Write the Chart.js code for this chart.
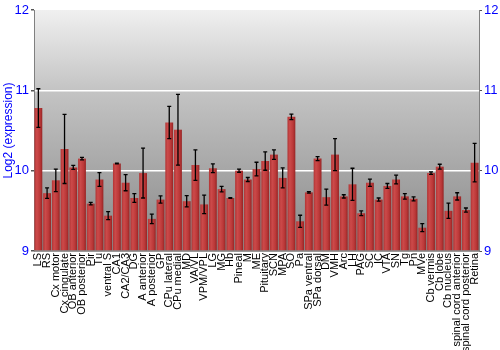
<!DOCTYPE html>
<html lang="en">
  <head>
    <meta charset="UTF-8" />
    <title>Log2 expression by region</title>
    <script src="https://cdn.jsdelivr.net/npm/chart.js"></script>
    <style>
      body { margin: 0; background: #fff; }
    </style>
  </head>
  <body>
    <canvas id="exprChart" width="500" height="350"></canvas>

    <script>
      // === data ===
      const regions = [
        "LS", "RS", "Cx motor", "Cx cingulate", "OB anterior", "OB posterior", "Pir", "Tu",
        "ventral S", "CA1", "CA2/CA3", "DG", "A anterior", "A posterior", "GP", "CPu lateral",
        "CPu medial", "MD", "VA/VL", "VPM/VPL", "LG", "MG", "Hb", "Pineal", "M", "ME",
        "Pituitary", "SCN", "MPA", "SO", "Pa", "SPa ventral", "SPa dorsal", "DM", "VMH", "Arc",
        "LH", "PAG", "SC", "IC", "VTA", "SN", "Tg", "Pn", "MVe", "Cb vermis", "Cb lobe",
        "Cb nucleus", "spinal cord anterior", "spinal cord posterior", "Retina"
      ];
      const meanExpr = [
        10.78, 9.72, 9.88, 10.27, 10.04, 10.15, 9.59, 9.89,
        9.44, 10.09, 9.85, 9.66, 9.97, 9.40, 9.64, 10.60,
        10.51, 9.62, 10.07, 9.58, 10.03, 9.77, 9.66, 10.00, 9.89, 10.02,
        10.12, 10.20, 9.91, 10.67, 9.37, 9.73, 10.15, 9.67, 10.20, 9.68,
        9.83, 9.47, 9.85, 9.64, 9.81, 9.89, 9.68, 9.65, 9.29, 9.97, 10.05,
        9.50, 9.68, 9.51, 10.10
      ];
      const errExpr = [
        0.24, 0.065, 0.14, 0.43, 0.025, 0.015, 0.015, 0.085,
        0.05, 0.005, 0.1, 0.055, 0.31, 0.06, 0.045, 0.2,
        0.44, 0.07, 0.19, 0.115, 0.055, 0.035, 0.005, 0.02, 0.025, 0.085,
        0.115, 0.06, 0.125, 0.035, 0.075, 0.01, 0.025, 0.1, 0.2, 0.02,
        0.2, 0.03, 0.045, 0.02, 0.03, 0.055, 0.035, 0.025, 0.05, 0.015, 0.03,
        0.095, 0.045, 0.025, 0.24
      ];
      const yTicks = [9, 10, 11, 12];

      Chart.defaults.font.family = "'Liberation Sans', Arial, sans-serif";

      // gray gradient behind the plot
      const plotBackground = {
        id: "plotBackground",
        beforeDraw(chart) {
          const { ctx, chartArea: a } = chart;
          const g = ctx.createLinearGradient(0, a.top, 0, a.bottom);
          g.addColorStop(0, "#f0f0f0");
          g.addColorStop(0.33, "#c4c4c4");
          g.addColorStop(0.67, "#a6a6a6");
          g.addColorStop(1, "#888888");
          ctx.save();
          ctx.fillStyle = g;
          ctx.fillRect(a.left, a.top, a.right - a.left, a.bottom - a.top);
          ctx.restore();
        },
      };

      // error bars from the y scale
      const errorBars = {
        id: "errorBars",
        afterDatasetsDraw(chart) {
          const { ctx, scales } = chart;
          ctx.save();
          ctx.strokeStyle = "#000";
          ctx.lineWidth = 1.3;
          meanExpr.forEach((m, i) => {
            const x = scales.x.getPixelForValue(i);
            const y1 = scales.y.getPixelForValue(m + errExpr[i]);
            const y2 = scales.y.getPixelForValue(m - errExpr[i]);
            ctx.beginPath();
            ctx.moveTo(x, y1);
            ctx.lineTo(x, y2);
            ctx.moveTo(x - 2, y1);
            ctx.lineTo(x + 2, y1);
            ctx.moveTo(x - 2, y2);
            ctx.lineTo(x + 2, y2);
            ctx.stroke();
          });
          ctx.restore();
        },
      };

      // shaded red bars
      function barFill(c) {
        const chart = c.chart;
        const xs = chart.scales && chart.scales.x;
        if (!xs || c.dataIndex === undefined) return "#bb3636";
        const cx = xs.getPixelForValue(c.dataIndex);
        if (!Number.isFinite(cx)) return "#bb3636";
        const w = 4;
        const g = chart.ctx.createLinearGradient(cx - w, 0, cx + w, 0);
        g.addColorStop(0, "#b03434");
        g.addColorStop(0.3, "#cc4a4a");
        g.addColorStop(0.7, "#bb3838");
        g.addColorStop(1, "#952424");
        return g;
      }

      const chart = new Chart(document.getElementById("exprChart"), {
        type: "bar",
        data: {
          labels: regions,
          datasets: [
            {
              label: "Log2 (expression)",
              data: meanExpr,
              backgroundColor: barFill,
              borderWidth: 0,
              barPercentage: 0.9,
              categoryPercentage: 1.0,
              base: 9,
            },
          ],
        },
        options: {
          responsive: false,
          animation: false,
          layout: { padding: { top: 10, left: 0, right: 0, bottom: 0 } },
          plugins: {
            legend: { display: false },
            tooltip: { enabled: false },
          },
          scales: {
            x: {
              grid: { display: true, drawOnChartArea: false, drawTicks: false },
              border: { display: true, color: "#999" },
              ticks: {
                autoSkip: false,
                maxRotation: 90,
                minRotation: 90,
                padding: 2,
                color: "#000",
                font: { size: 11 },
              },
              afterFit(scale) {
                scale.height = 99;
              },
            },
            y: {
              position: "left",
              min: 9,
              max: 12,
              afterBuildTicks(scale) {
                scale.ticks = yTicks.map((v) => ({ value: v }));
              },
              grid: {
                color: (c) => (c.tick && (c.tick.value === 10 || c.tick.value === 11) ? "#ffffff" : "rgba(0,0,0,0)"),
                lineWidth: 1.5,
                tickColor: "#555",
                tickLength: 3,
              },
              border: { display: true, color: "#808080", width: 1 },
              ticks: { color: "#0000ff", padding: 2, font: { size: 13 } },
              title: {
                display: true,
                text: "Log2 (expression)",
                color: "#0000ff",
                font: { size: 12 },
                padding: { top: 1, bottom: 0 },
              },
              afterFit(scale) {
                scale.width = 34;
              },
            },
            y2: {
              position: "right",
              min: 9,
              max: 12,
              afterBuildTicks(scale) {
                scale.ticks = yTicks.map((v) => ({ value: v }));
              },
              grid: { drawOnChartArea: false, tickColor: "#555", tickLength: 3 },
              border: { display: true, color: "#808080", width: 1 },
              ticks: { color: "#0000ff", padding: 2, font: { size: 13 } },
              afterFit(scale) {
                scale.width = 21;
              },
            },
          },
        },
        plugins: [plotBackground, errorBars],
      });
      // second pass so the bar gradients see the laid-out scale
      chart.update();
    </script>
  </body>
</html>
